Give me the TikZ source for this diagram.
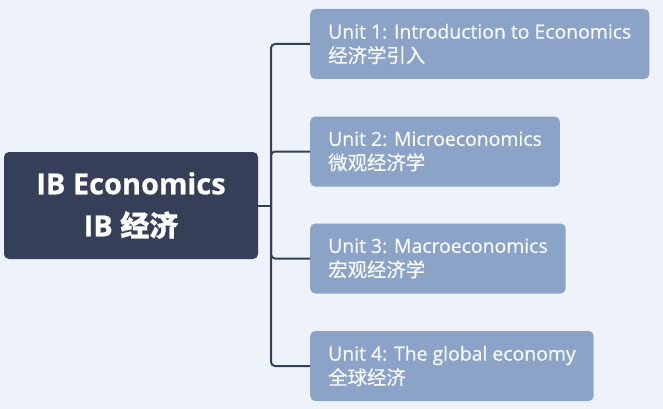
\documentclass[tikz,border=0pt]{standalone}
\usepackage{fontspec}
\setmainfont{Open Sans}[FakeBold=0.6]
\newfontfamily\cjk{Noto Sans CJK SC}[FakeBold=0.6]
\newcommand{\unitfont}{\addfontfeatures{FakeBold=0.6}\fontsize{19.4}{24}\selectfont}
\definecolor{bgcol}{HTML}{EEF2FA}
\definecolor{rootcol}{HTML}{353F57}
\definecolor{unitcol}{HTML}{8AA3C6}
\definecolor{unittext}{HTML}{F7F9FC}

\begin{document}
\begin{tikzpicture}[x=1pt, y=-1pt,
    rootbox/.style={fill=rootcol, text=white, rounded corners=5pt, minimum width=254pt,
      minimum height=107pt, align=center, font=\bfseries\fontsize{29}{42}\selectfont},
    unitbox/.style={fill=unitcol, text=unittext, rounded corners=5pt, anchor=west,
      minimum height=70pt, inner xsep=18pt, align=left, font=\unitfont},
    branch/.style={draw=rootcol, line width=2pt, rounded corners=4pt}]
        \fill[bgcol] (0, 0) rectangle (663, 409);
        \useasboundingbox (0, 0) rectangle (663, 409);

        \node[rootbox] (IB) at (131, 205.5) {IB Economics\\IB {\cjk 经济}};
        \coordinate (J) at (271, 205.5);

        \node[unitbox] (U1) at (310, 44) {Unit 1: Introduction to Economics\\{\cjk\addfontfeatures{FakeBold=0.6} 经济学引入}};
        \node[unitbox] (U2) at (310, 151.5) {Unit 2: Microeconomics\\{\cjk\addfontfeatures{FakeBold=0.6} 微观经济学}};
        \node[unitbox] (U3) at (310, 258.5) {Unit 3: Macroeconomics\\{\cjk\addfontfeatures{FakeBold=0.6} 宏观经济学}};
        \node[unitbox] (U4) at (310, 366) {Unit 4: The global economy\\{\cjk\addfontfeatures{FakeBold=0.6} 全球经济}};

        \draw[branch] (IB.east) -- (J);
        \draw[branch] (J) |- (U1.west);
        \draw[branch] (J) |- (U2.west);
        \draw[branch] (J) |- (U3.west);
        \draw[branch] (J) |- (U4.west);
      \end{tikzpicture}
\end{document}
